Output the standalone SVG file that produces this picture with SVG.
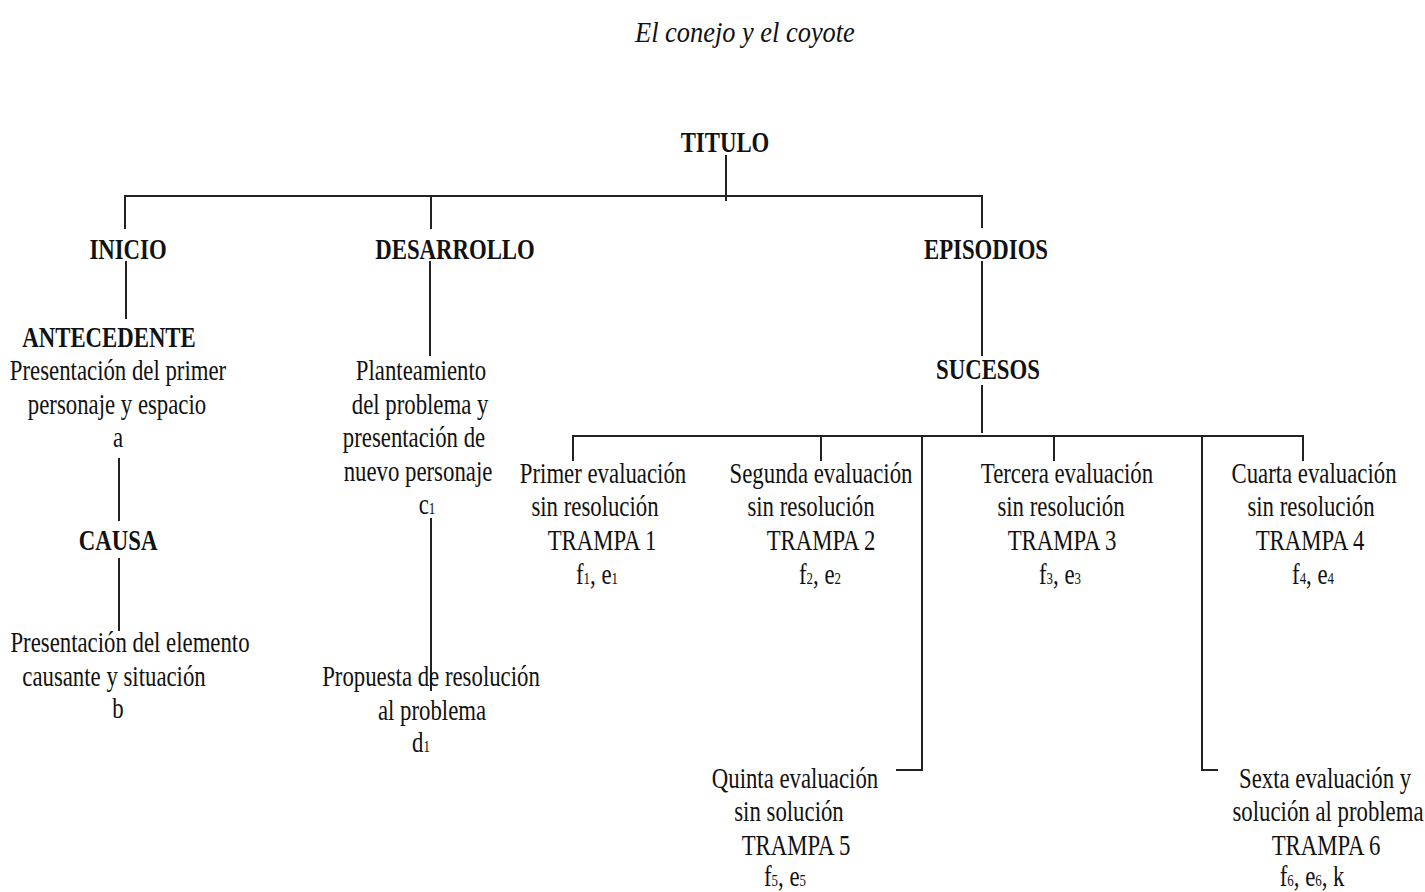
<svg xmlns="http://www.w3.org/2000/svg" width="1425" height="892" viewBox="0 0 1425 892">
<style>
text{font-family:"Liberation Serif","Times New Roman",serif;font-size:30px;fill:#111;text-anchor:middle;transform-box:fill-box;transform-origin:center;transform:scaleX(0.76)}
.b{font-weight:bold}
.ti{font-style:italic;transform:scaleX(0.88)}
.s{font-size:17px}
.c line,.c polyline{stroke:#222;stroke-width:2;fill:none}
</style>
<rect width="1425" height="892" fill="#fff"/>
<g id="title"><text class="ti" x="745" y="42">El conejo y el coyote</text></g>
<g class="c" id="connectors">
<line x1="726" y1="155" x2="726" y2="201"/>
<line x1="124" y1="196" x2="983" y2="196"/>
<line x1="125" y1="196" x2="125" y2="229"/>
<line x1="431" y1="196" x2="431" y2="229"/>
<line x1="982" y1="196" x2="982" y2="228"/>
<line x1="126" y1="261" x2="126" y2="319"/>
<line x1="119" y1="458" x2="119" y2="521"/>
<line x1="119" y1="558" x2="119" y2="631"/>
<line x1="430" y1="261" x2="430" y2="356"/>
<line x1="431" y1="518" x2="431" y2="691"/>
<line x1="982" y1="261" x2="982" y2="356"/>
<line x1="982" y1="385" x2="982" y2="433"/>
<line x1="572" y1="436" x2="1304" y2="436"/>
<line x1="573" y1="436" x2="573" y2="461"/>
<line x1="821" y1="436" x2="821" y2="461"/>
<line x1="1054" y1="436" x2="1054" y2="461"/>
<line x1="1303" y1="436" x2="1303" y2="461"/>
<polyline points="922,436 922,770 896,770"/>
<polyline points="1202,436 1202,770 1218,770"/>
</g>
<g id="titulo"><text class="b" x="725" y="152">TITULO</text></g>
<g id="inicio"><text class="b" x="128" y="259">INICIO</text></g>
<g id="desarrollo"><text class="b" x="455" y="259">DESARROLLO</text></g>
<g id="episodios"><text class="b" x="986" y="259">EPISODIOS</text></g>
<g id="antecedente">
<text class="b" x="109" y="347">ANTECEDENTE</text>
<text x="118" y="380">Presentación del primer</text>
<text x="117" y="414">personaje y espacio</text>
<text x="118" y="447">a</text>
</g>
<g id="causa"><text class="b" x="118" y="550">CAUSA</text></g>
<g id="elemento">
<text x="130" y="652">Presentación del elemento</text>
<text x="114" y="686">causante y situación</text>
<text x="118" y="718">b</text>
</g>
<g id="planteamiento">
<text x="421" y="380">Planteamiento</text>
<text x="420" y="414">del problema y</text>
<text x="414" y="447">presentación de</text>
<text x="418" y="481">nuevo personaje</text>
<text x="427" y="514">c<tspan class="s">1</tspan></text>
</g>
<g id="propuesta">
<text x="431" y="686">Propuesta de resolución</text>
<text x="432" y="720">al problema</text>
<text x="421" y="752">d<tspan class="s">1</tspan></text>
</g>
<g id="sucesos"><text class="b" x="988" y="379">SUCESOS</text></g>
<g id="trampa1">
<text x="603" y="483">Primer evaluación</text>
<text x="595" y="516">sin resolución</text>
<text x="602" y="550">TRAMPA 1</text>
<text x="597" y="584">f<tspan class="s">1</tspan>, e<tspan class="s">1</tspan></text>
</g>
<g id="trampa2">
<text x="821" y="483">Segunda evaluación</text>
<text x="811" y="516">sin resolución</text>
<text x="821" y="550">TRAMPA 2</text>
<text x="820" y="584">f<tspan class="s">2</tspan>, e<tspan class="s">2</tspan></text>
</g>
<g id="trampa3">
<text x="1067" y="483">Tercera evaluación</text>
<text x="1061" y="516">sin resolución</text>
<text x="1062" y="550">TRAMPA 3</text>
<text x="1060" y="584">f<tspan class="s">3</tspan>, e<tspan class="s">3</tspan></text>
</g>
<g id="trampa4">
<text x="1314" y="483">Cuarta evaluación</text>
<text x="1311" y="516">sin resolución</text>
<text x="1310" y="550">TRAMPA 4</text>
<text x="1313" y="584">f<tspan class="s">4</tspan>, e<tspan class="s">4</tspan></text>
</g>
<g id="trampa5">
<text x="795" y="788">Quinta evaluación</text>
<text x="789" y="821">sin solución</text>
<text x="796" y="855">TRAMPA 5</text>
<text x="785" y="886">f<tspan class="s">5</tspan>, e<tspan class="s">5</tspan></text>
</g>
<g id="trampa6">
<text x="1325" y="788">Sexta evaluación y</text>
<text x="1328" y="821">solución al problema</text>
<text x="1326" y="855">TRAMPA 6</text>
<text x="1312" y="886">f<tspan class="s">6</tspan>, e<tspan class="s">6</tspan>, k</text>
</g>
</svg>
